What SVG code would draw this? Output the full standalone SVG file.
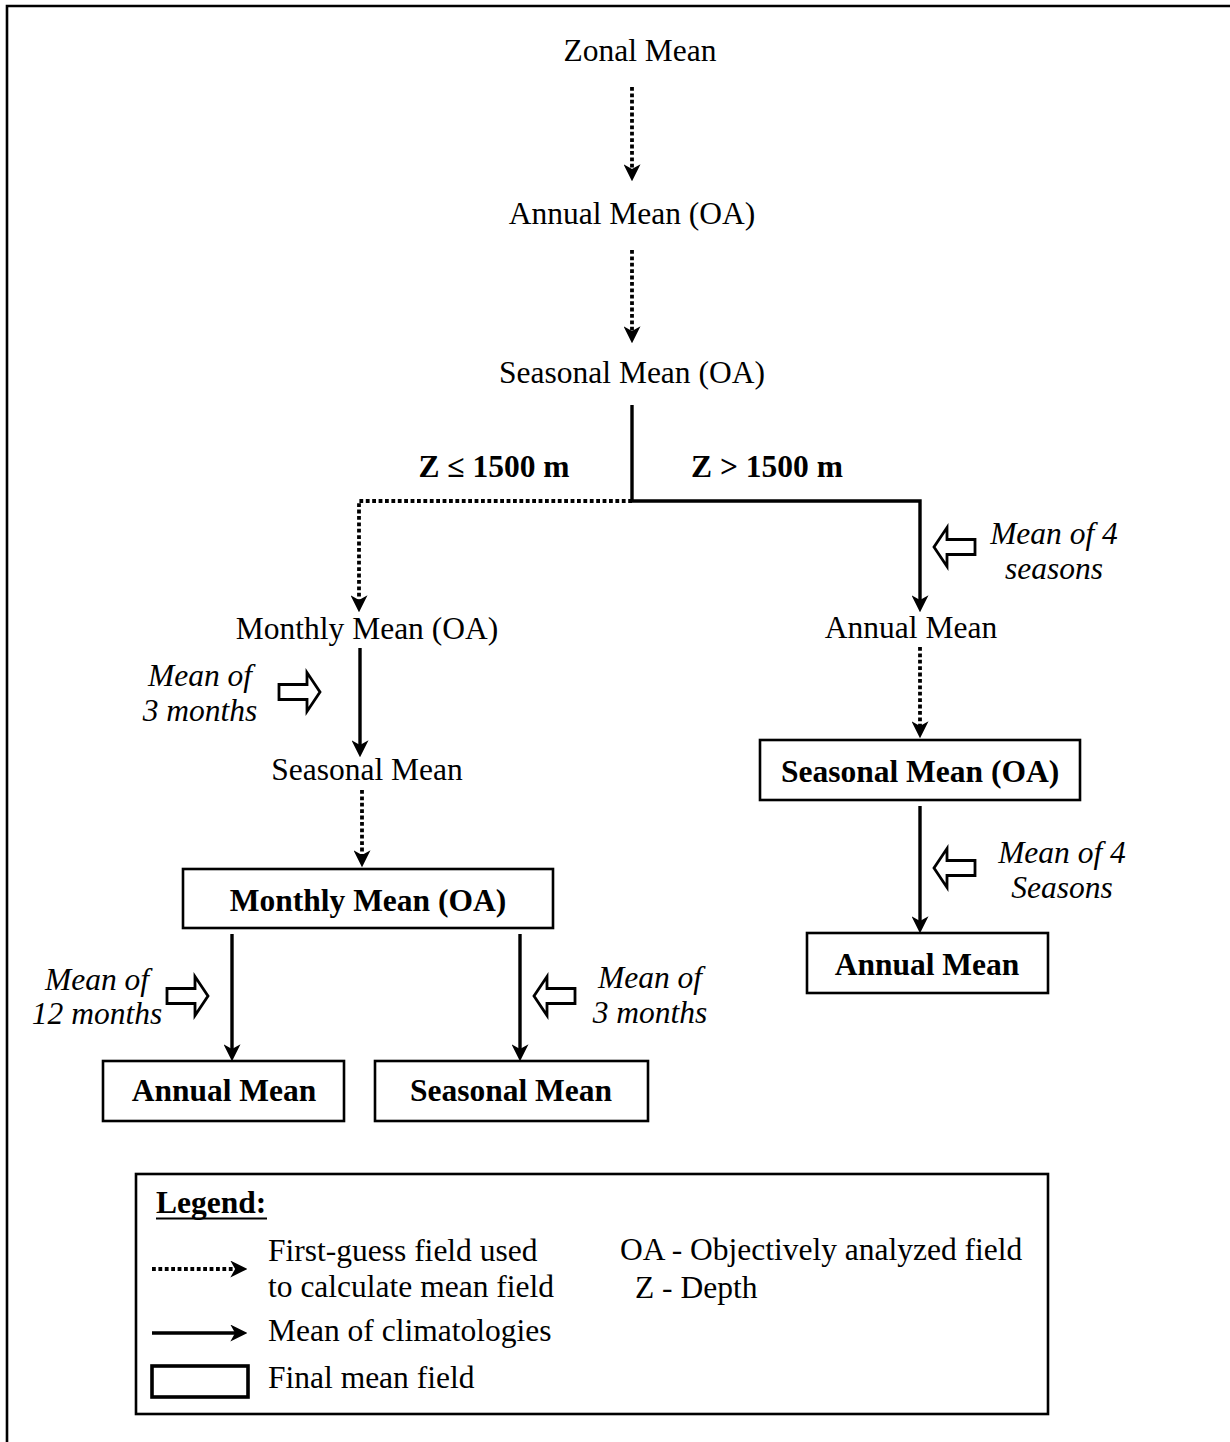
<svg xmlns="http://www.w3.org/2000/svg" xmlns:xlink="http://www.w3.org/1999/xlink" width="1230" height="1442" viewBox="0 0 1230 1442">
<defs>
<style>
text{font-family:"Liberation Serif","Times New Roman",serif;font-size:31.5px;fill:#000}
.c{text-anchor:middle}
.b{font-weight:bold}
.i{font-style:italic}
.box{fill:#fff;stroke:#000;stroke-width:2.6}
.solid{fill:none;stroke:#000;stroke-width:3.4}
.dot{fill:none;stroke:#000;stroke-width:3.8;stroke-dasharray:3.8 2.6}
.hollow{fill:#fff;stroke:#000;stroke-width:2.8;stroke-linejoin:miter}
</style>
<marker id="ah" markerUnits="userSpaceOnUse" markerWidth="17" markerHeight="17" refX="11" refY="8" orient="auto" viewBox="0 0 16 16">
<path d="M0,0 L16,8 L0,16 L4.5,8 Z" fill="#000"/>
</marker>
<path id="blk" d="M0,-7.5 H28 V-19.5 L41,0 L28,19.5 V7.5 H0 Z"/>
</defs>
<rect width="1230" height="1442" fill="#fff"/>
<g id="frame">
<path d="M7,1442 V6 H1230" fill="none" stroke="#000" stroke-width="2.6"/>
</g>

<g id="connectors">
<path class="dot" d="M632,87 V176" marker-end="url(#ah)"/>
<path class="dot" d="M632,250 V338" marker-end="url(#ah)"/>
<path class="solid" d="M632,405 V501"/>
<path class="dot" d="M632,501 H359 V607" marker-end="url(#ah)"/>
<path class="solid" d="M632,501 H920 V607" marker-end="url(#ah)"/>
<path class="dot" d="M920,647 V733" marker-end="url(#ah)"/>
<path class="solid" d="M920,806 V928" marker-end="url(#ah)"/>
<path class="solid" d="M360,648 V752" marker-end="url(#ah)"/>
<path class="dot" d="M362,790 V862" marker-end="url(#ah)"/>
<path class="solid" d="M232,934 V1056" marker-end="url(#ah)"/>
<path class="solid" d="M520,934 V1056" marker-end="url(#ah)"/>
</g>

<g id="hollow-arrows">
<use xlink:href="#blk" class="hollow" transform="translate(279,692)"/>
<use xlink:href="#blk" class="hollow" transform="translate(975,547) scale(-1,1)"/>
<use xlink:href="#blk" class="hollow" transform="translate(975,868) scale(-1,1)"/>
<use xlink:href="#blk" class="hollow" transform="translate(167,996)"/>
<use xlink:href="#blk" class="hollow" transform="translate(575,996) scale(-1,1)"/>
</g>

<g id="zonal-mean"><text class="c" x="640" y="61">Zonal Mean</text></g>
<g id="annual-mean-oa"><text class="c" x="632" y="224">Annual Mean (OA)</text></g>
<g id="seasonal-mean-oa"><text class="c" x="632" y="383">Seasonal Mean (OA)</text></g>
<g id="depth-labels">
<text class="c b" x="494" y="477">Z ≤ 1500 m</text>
<text class="c b" x="767" y="477">Z &gt; 1500 m</text>
</g>

<g id="monthly-mean-oa"><text class="c" x="367" y="639">Monthly Mean (OA)</text></g>
<g id="seasonal-mean-left"><text class="c" x="367" y="780">Seasonal Mean</text></g>
<g id="monthly-mean-final">
<rect class="box" x="183" y="869" width="370" height="59"/>
<text class="c b" x="368" y="911">Monthly Mean (OA)</text>
</g>
<g id="annual-mean-final-left">
<rect class="box" x="103" y="1061" width="241" height="60"/>
<text class="c b" x="224" y="1101">Annual Mean</text>
</g>
<g id="seasonal-mean-final">
<rect class="box" x="375" y="1061" width="273" height="60"/>
<text class="c b" x="511" y="1101">Seasonal Mean</text>
</g>

<g id="annual-mean-right"><text class="c" x="911" y="638">Annual Mean</text></g>
<g id="seasonal-mean-oa-final">
<rect class="box" x="760" y="740" width="320" height="60"/>
<text class="c b" x="920" y="782">Seasonal Mean (OA)</text>
</g>
<g id="annual-mean-final-right">
<rect class="box" x="807" y="933" width="241" height="60"/>
<text class="c b" x="927" y="975">Annual Mean</text>
</g>

<g id="labels">
<text class="c i" x="200" y="686">Mean of</text>
<text class="c i" x="200" y="721">3 months</text>
<text class="c i" x="1054" y="544">Mean of 4</text>
<text class="c i" x="1054" y="579">seasons</text>
<text class="c i" x="1062" y="863">Mean of 4</text>
<text class="c i" x="1062" y="898">Seasons</text>
<text class="c i" x="97" y="990">Mean of</text>
<text class="c i" x="97" y="1024">12 months</text>
<text class="c i" x="650" y="988">Mean of</text>
<text class="c i" x="650" y="1023">3 months</text>
</g>

<g id="legend">
<rect x="136" y="1174" width="912" height="240" fill="#fff" stroke="#000" stroke-width="2.6"/>
<text class="b" x="156" y="1213">Legend:</text>
<line x1="156" y1="1218.5" x2="267" y2="1218.5" stroke="#000" stroke-width="2.2"/>
<path class="dot" d="M152,1269 H242" marker-end="url(#ah)"/>
<text x="268" y="1261">First-guess field used</text>
<text x="268" y="1297">to calculate mean field</text>
<path class="solid" d="M152,1333 H242" marker-end="url(#ah)"/>
<text x="268" y="1341">Mean of climatologies</text>
<rect x="152" y="1366" width="96" height="31" fill="#fff" stroke="#000" stroke-width="3.6"/>
<text x="268" y="1388">Final mean field</text>
<text x="620" y="1260">OA - Objectively analyzed field</text>
<text x="635" y="1298">Z - Depth</text>
</g>
</svg>
